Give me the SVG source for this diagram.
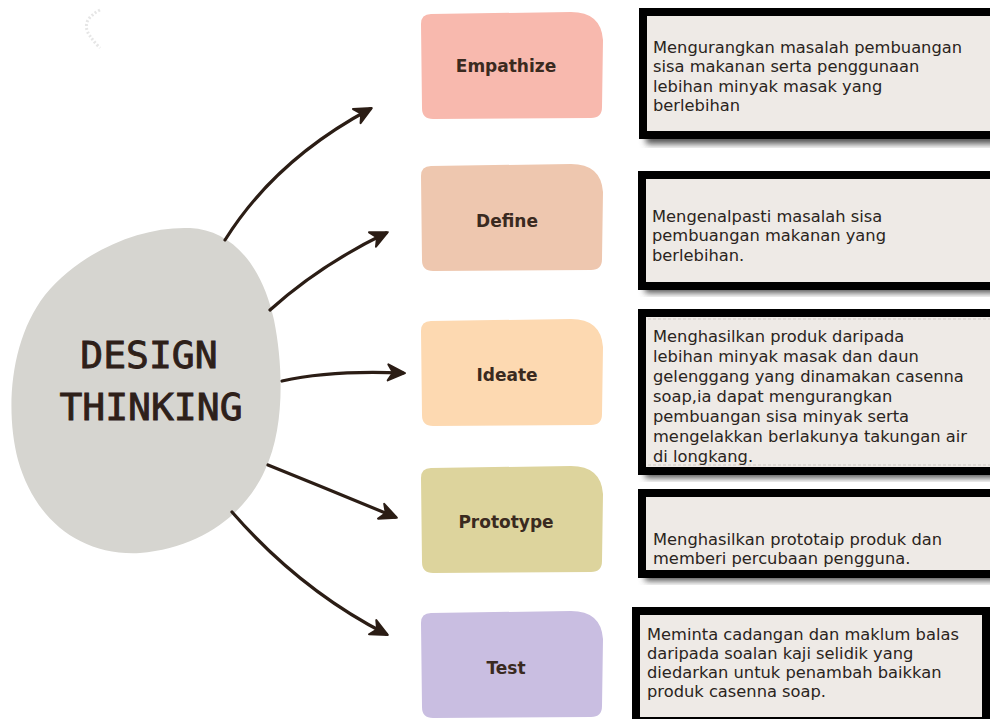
<svg xmlns="http://www.w3.org/2000/svg" width="990" height="719" viewBox="0 0 990 719">
<style>
.lbl{font-family:"DejaVu Sans","Liberation Sans",sans-serif;font-weight:bold;font-size:17px;fill:#3a2a20;text-anchor:middle}
.big{font-family:"DejaVu Sans Mono","Liberation Mono",monospace;font-size:38px;fill:#2e2019;stroke:#2e2019;stroke-width:0.9;text-anchor:middle}
.txt{font-family:"DejaVu Sans","Liberation Sans",sans-serif;font-size:16.3px;fill:#2a2420}
.box{fill:#eeeae6;stroke:#000;stroke-width:8}
.shd{fill:#555;filter:url(#blur)}
.arr{fill:none;stroke:#2b1d15;stroke-width:3.2;stroke-linecap:round;marker-end:url(#ah)}
</style>
<defs>
<filter id="blur" x="-10%" y="-30%" width="120%" height="160%"><feGaussianBlur stdDeviation="3"/></filter>
<marker id="ah" markerUnits="userSpaceOnUse" markerWidth="24" markerHeight="24" viewBox="-20 -10 24 20" refX="0" refY="0" orient="auto">
<path d="M2,0 L-15,-8 L-10,0 L-15,8 Z" fill="#2b1d15" stroke="#2b1d15" stroke-width="2" stroke-linejoin="round"/>
</marker>
<path id="pb" d="M10,2 L150,0 Q180,0 182,28 L181,95 Q181,106 170,106 L12,107 Q1,107 1,96 L0,12 Q0,2 10,2 Z"/>
</defs>
<rect width="990" height="719" fill="#fff"/>
<path d="M100,10 q-8,4 -12,10 q-4,8 2,16 q4,6 10,12" fill="none" stroke="#e6e6e6" stroke-width="3" stroke-dasharray="2 2"/>

<g id="center">
<path d="M190,228 C232,230 262,265 274,320 C284,370 284,430 265,470 C245,515 200,548 140,553 C80,556 35,520 18,460 C5,410 10,340 45,295 C80,252 140,226 190,228 Z" fill="#d6d5d0"/>
<text class="big" x="149" y="368">DESIGN</text>
<text class="big" x="151" y="420">THINKING</text>
</g>

<g id="connectors">
<path class="arr" d="M225,240 Q275,160 370,109"/>
<path class="arr" d="M270,310 Q320,265 386,233"/>
<path class="arr" d="M282,381 Q330,370 403,373"/>
<path class="arr" d="M268,465 Q330,490 395,517"/>
<path class="arr" d="M232,512 Q300,590 386,634"/>
</g>

<g id="empathize">
<use href="#pb" x="421" y="12" fill="#f8b9ae"/>
<text class="lbl" x="506" y="72">Empathize</text>
</g>
<g id="define">
<use href="#pb" x="421" y="164" fill="#eec7af"/>
<text class="lbl" x="507" y="227">Define</text>
</g>
<g id="ideate">
<use href="#pb" x="421" y="319" fill="#fdd9b1"/>
<text class="lbl" x="507" y="381">Ideate</text>
</g>
<g id="prototype">
<use href="#pb" x="421" y="466" fill="#ddd49d"/>
<text class="lbl" x="506" y="528">Prototype</text>
</g>
<g id="test">
<use href="#pb" x="421" y="611" fill="#c9bee1"/>
<text class="lbl" x="506" y="674">Test</text>
</g>

<g id="desc1">
<rect class="shd" x="646" y="132" width="360" height="12"/>
<rect class="box" x="643" y="12" width="360" height="123"/>
<text class="txt" x="653" y="53">Mengurangkan masalah pembuangan</text>
<text class="txt" x="653" y="72">sisa makanan serta penggunaan</text>
<text class="txt" x="653" y="92">lebihan minyak masak yang</text>
<text class="txt" x="653" y="111">berlebihan</text>
</g>
<g id="desc2">
<rect class="shd" x="645" y="282" width="360" height="11"/>
<rect class="box" x="642" y="175" width="360" height="111"/>
<text class="txt" x="652" y="222">Mengenalpasti masalah sisa</text>
<text class="txt" x="652" y="241">pembuangan makanan yang</text>
<text class="txt" x="652" y="261">berlebihan.</text>
</g>
<g id="desc3">
<rect class="shd" x="645" y="467" width="360" height="11"/>
<rect class="box" x="642" y="313" width="360" height="158"/>
<line x1="648" y1="319" x2="990" y2="319" stroke="#cfcac5" stroke-width="1" stroke-dasharray="3 2"/>
<line x1="648" y1="465" x2="990" y2="465" stroke="#cfcac5" stroke-width="1" stroke-dasharray="3 2"/>
<text class="txt" x="653" y="342">Menghasilkan produk daripada</text>
<text class="txt" x="653" y="362">lebihan minyak masak dan daun</text>
<text class="txt" x="653" y="382">gelenggang yang dinamakan casenna</text>
<text class="txt" x="653" y="402">soap,ia dapat mengurangkan</text>
<text class="txt" x="653" y="422">pembuangan sisa minyak serta</text>
<text class="txt" x="653" y="442">mengelakkan berlakunya takungan air</text>
<text class="txt" x="653" y="462">di longkang.</text>
</g>
<g id="desc4">
<rect class="shd" x="645" y="570" width="360" height="11"/>
<rect class="box" x="642" y="493" width="360" height="81"/>
<text class="txt" x="653" y="545">Menghasilkan prototaip produk dan</text>
<text class="txt" x="653" y="564">memberi percubaan pengguna.</text>
</g>
<g id="desc5">
<rect class="box" x="636" y="611" width="350" height="110"/>
<text class="txt" x="647" y="640">Meminta cadangan dan maklum balas</text>
<text class="txt" x="647" y="659">daripada soalan kaji selidik yang</text>
<text class="txt" x="647" y="678">diedarkan untuk penambah baikkan</text>
<text class="txt" x="647" y="697">produk casenna soap.</text>
</g>
</svg>
